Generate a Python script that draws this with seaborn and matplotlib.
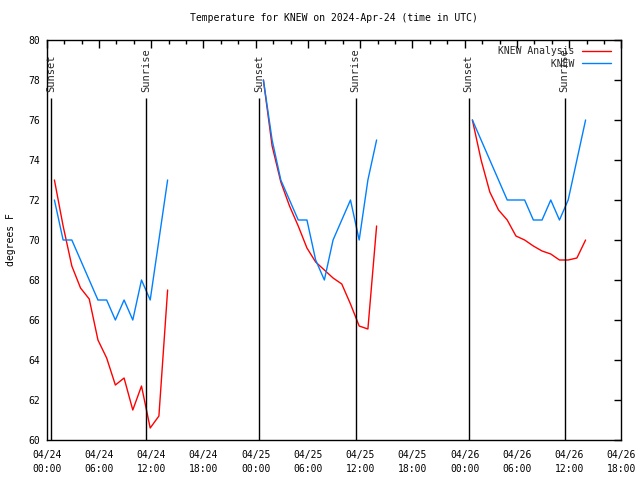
import matplotlib
matplotlib.use("Agg")
import matplotlib.pyplot as plt
import matplotlib.dates as mdates
from matplotlib.ticker import MultipleLocator
import seaborn as sns
import pandas as pd

# ---------------- data ----------------
series_names = ["KNEW Analysis", "KNEW"]
day_starts = ["2024-04-24 00:53", "2024-04-25 00:53", "2024-04-26 00:53"]
hours_per_day = 14

analysis_day1 = [73.0, 70.7, 68.7, 67.6, 67.05, 65.0, 64.1, 62.75, 63.1, 61.5, 62.7, 60.6, 61.2, 67.5]
analysis_day2 = [78.0, 74.7, 72.9, 71.7, 70.7, 69.6, 68.9, 68.5, 68.1, 67.8, 66.8, 65.7, 65.55, 70.7]
analysis_day3 = [76.0, 74.0, 72.4, 71.5, 71.0, 70.2, 70.0, 69.7, 69.45, 69.3, 69.0, 69.0, 69.1, 70.0]

obs_day1 = [72, 70, 70, 69, 68, 67, 67, 66, 67, 66, 68, 67, 70, 73]
obs_day2 = [78, 75, 73, 72, 71, 71, 69, 68, 70, 71, 72, 70, 73, 75]
obs_day3 = [76, 75, 74, 73, 72, 72, 72, 71, 71, 72, 71, 72, 74, 76]

sunset_times = ["2024-04-24 00:28", "2024-04-25 00:26", "2024-04-26 00:27"]
sunrise_times = ["2024-04-24 11:25", "2024-04-25 11:28", "2024-04-26 11:29"]

x_start = "2024-04-24 00:00"
x_end = "2024-04-26 18:00"
y_min, y_max = 60, 80

title = "Temperature for KNEW on 2024-Apr-24 (time in UTC)"
ylabel = "degrees F"

# ---------------- build table ----------------
rows = []
analysis = [analysis_day1, analysis_day2, analysis_day3]
obs = [obs_day1, obs_day2, obs_day3]
for d, start in enumerate(day_starts):
    times = pd.date_range(start, periods=hours_per_day, freq="h")
    for t, v in zip(times, analysis[d]):
        rows.append({"time": t, "temp": v, "series": series_names[0], "segment": f"a{d}"})
    for t, v in zip(times, obs[d]):
        rows.append({"time": t, "temp": v, "series": series_names[1], "segment": f"o{d}"})
df = pd.DataFrame(rows)

# ---------------- plot ----------------
sns.set_theme(style="white")
plt.rcParams["font.family"] = ["DejaVu Sans Mono"]

fig = plt.figure(figsize=(6.4, 4.8), dpi=100)
ax = fig.add_axes([0.073, 0.0833, 0.898, 0.8334])

sns.lineplot(data=df, x="time", y="temp", hue="series", hue_order=series_names,
             palette=["#ff0000", "#0080ff"], units="segment", estimator=None,
             linewidth=1, ax=ax, legend=True)

ymark_top = 77.1
for t in sunset_times:
    ts = pd.Timestamp(t)
    ax.vlines(ts, y_min, ymark_top, color="black", lw=1)
    ax.text(ts, 77.4, "Sunset", rotation=90, ha="center", va="bottom", fontsize=7.5)
for t in sunrise_times:
    ts = pd.Timestamp(t)
    ax.vlines(ts, y_min, ymark_top, color="black", lw=1)
    ax.text(ts, 77.4, "Sunrise", rotation=90, ha="center", va="bottom", fontsize=7.5)

ax.set_xlim(pd.Timestamp(x_start), pd.Timestamp(x_end))
ax.set_ylim(y_min, y_max)
ax.xaxis.set_major_locator(mdates.HourLocator(byhour=[0, 6, 12, 18]))
ax.xaxis.set_minor_locator(mdates.HourLocator(byhour=list(range(0, 24, 2))))
ax.xaxis.set_major_formatter(mdates.DateFormatter("%m/%d\n%H:%M"))
ax.yaxis.set_major_locator(MultipleLocator(2))

ax.tick_params(which="both", direction="in", top=True, right=True, labelsize=7,
               color="black", labelcolor="black", width=1)
ax.tick_params(axis="x", which="major", length=6, pad=7)
ax.tick_params(axis="x", which="minor", length=3)
ax.tick_params(axis="y", which="major", length=5, pad=5)
for sp in ax.spines.values():
    sp.set_color("black")
    sp.set_linewidth(1)

ax.set_xlabel("")
ax.set_ylabel(ylabel, fontsize=7, labelpad=8.5, color="black")
ax.set_title(title, fontsize=7, pad=14, color="black")

handles, labels = ax.get_legend_handles_labels()
width = max(len(l) for l in labels)
padded = [l.rjust(width) for l in labels]
ax.legend(handles, padded, loc="upper right", bbox_to_anchor=(0.981, 0.985),
          frameon=False, markerfirst=False, handlelength=2.9, handletextpad=0.8,
          borderpad=0, borderaxespad=0, labelspacing=0.3, fontsize=7)

fig.canvas.draw()
for lbl in ax.get_xticklabels():
    lbl.set_linespacing(1.5)

fig.savefig("out.png", dpi=100)
